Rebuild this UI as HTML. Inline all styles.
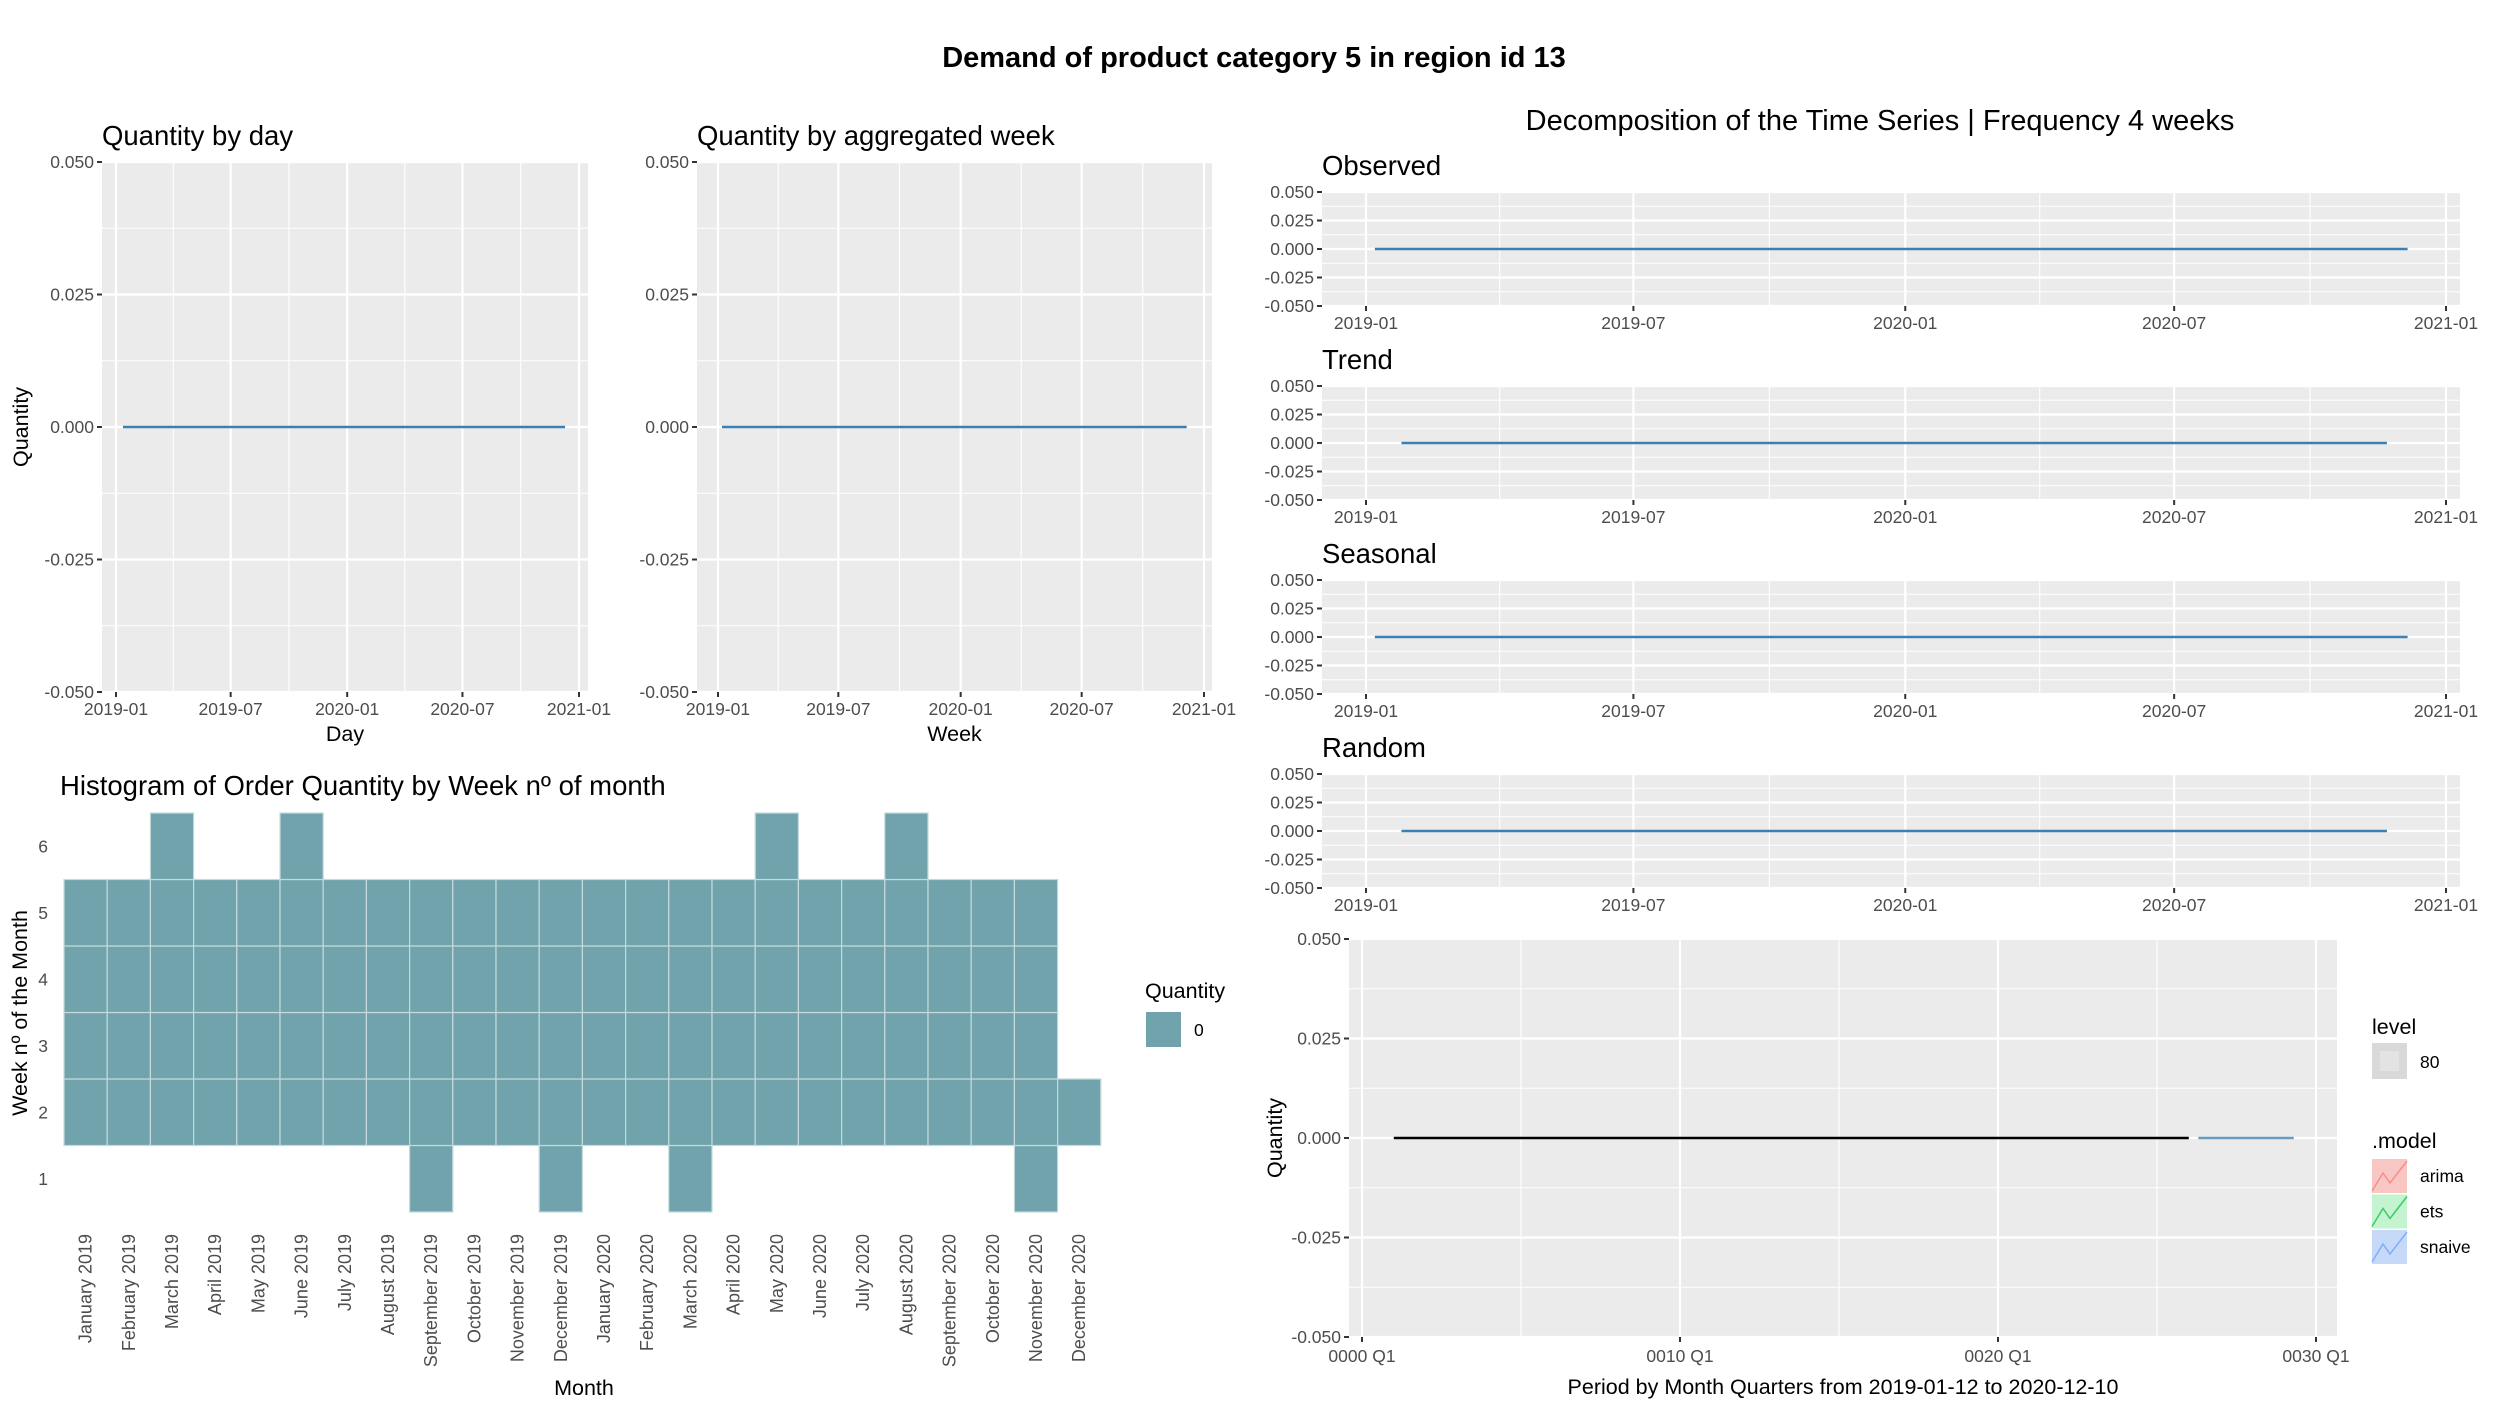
<!DOCTYPE html>
<html><head><meta charset="utf-8">
<style>
html,body{margin:0;padding:0;background:#fff;}
svg{display:block;font-family:"Liberation Sans",Arial,sans-serif;}
</style></head>
<body>
<svg id="chart" width="2496" height="1404" viewBox="0 0 2496 1404" xmlns="http://www.w3.org/2000/svg">
<text x="1254" y="67" text-anchor="middle" font-size="29" font-weight="bold" fill="#000">Demand of product category 5 in region id 13</text>
</svg>
<script>
// ---------- data ----------
const yTicks = [0.05, 0.025, 0, -0.025, -0.05];
const yTickLabels = ["0.050", "0.025", "0.000", "-0.025", "-0.050"];
const dateTicks = ["2019-01-01", "2019-07-01", "2020-01-01", "2020-07-01", "2021-01-01"];
const dateTickLabels = ["2019-01", "2019-07", "2020-01", "2020-07", "2021-01"];
const dayDates = ["2019-01-12", "2019-07-01", "2020-01-01", "2020-07-01", "2020-12-10"];
const dayValues = [0, 0, 0, 0, 0];
const weekDates = ["2019-01-07", "2019-07-07", "2020-01-05", "2020-07-05", "2020-12-06"];
const weekValues = [0, 0, 0, 0, 0];
const observedDates = ["2019-01-07", "2019-07-07", "2020-01-05", "2020-07-05", "2020-12-06"];
const observedValues = [0, 0, 0, 0, 0];
const trendDates = ["2019-01-25", "2019-07-07", "2020-01-05", "2020-07-05", "2020-11-22"];
const trendValues = [0, 0, 0, 0, 0];
const seasonalDates = ["2019-01-07", "2019-07-07", "2020-01-05", "2020-07-05", "2020-12-06"];
const seasonalValues = [0, 0, 0, 0, 0];
const randomDates = ["2019-01-25", "2019-07-07", "2020-01-05", "2020-07-05", "2020-11-22"];
const randomValues = [0, 0, 0, 0, 0];
const months = ["January 2019","February 2019","March 2019","April 2019","May 2019","June 2019","July 2019","August 2019","September 2019","October 2019","November 2019","December 2019","January 2020","February 2020","March 2020","April 2020","May 2020","June 2020","July 2020","August 2020","September 2020","October 2020","November 2020","December 2020"];
const weekRows = [1, 2, 3, 4, 5, 6];
const heatMonthIdx = [0,0,0,0, 1,1,1,1, 2,2,2,2,2, 3,3,3,3, 4,4,4,4, 5,5,5,5,5, 6,6,6,6, 7,7,7,7, 8,8,8,8,8, 9,9,9,9, 10,10,10,10, 11,11,11,11,11, 12,12,12,12, 13,13,13,13, 14,14,14,14,14, 15,15,15,15, 16,16,16,16,16, 17,17,17,17, 18,18,18,18, 19,19,19,19,19, 20,20,20,20, 21,21,21,21, 22,22,22,22,22, 23];
const heatWeek = [2,3,4,5, 2,3,4,5, 2,3,4,5,6, 2,3,4,5, 2,3,4,5, 2,3,4,5,6, 2,3,4,5, 2,3,4,5, 1,2,3,4,5, 2,3,4,5, 2,3,4,5, 1,2,3,4,5, 2,3,4,5, 2,3,4,5, 1,2,3,4,5, 2,3,4,5, 2,3,4,5,6, 2,3,4,5, 2,3,4,5, 2,3,4,5,6, 2,3,4,5, 2,3,4,5, 1,2,3,4,5, 2];
const heatQuantity = heatWeek.map(() => 0);
const fcTicks = [0, 10, 20, 30];
const fcTickLabels = ["0000 Q1", "0010 Q1", "0020 Q1", "0030 Q1"];
const histX = [1, 10, 20, 26];
const histValues = [0, 0, 0, 0];
const fcX = [26.3, 28, 29.3];
const fcValues = [0, 0, 0];

// ---------- helpers ----------
const NS = "http://www.w3.org/2000/svg";
const svg = document.getElementById("chart");
const TICK = 17.5;
function mk(tag, attrs, parent) {
  const e = document.createElementNS(NS, tag);
  for (const k in attrs) e.setAttribute(k, attrs[k]);
  (parent || svg).appendChild(e);
  return e;
}
function txt(s, attrs, parent) { const e = mk("text", attrs, parent); e.textContent = s; return e; }
function yearFrac(d) { const t = new Date(d + "T00:00:00Z"); return (t - Date.UTC(2019,0,1)) / (Date.UTC(2021,0,1) - Date.UTC(2019,0,1)); }

function timePanel(o) {
  const g = mk("g", {});
  
  
  const xs = d => o.x0 + yearFrac(d) * (o.x1 - o.x0);
  const ys = v => o.top + (0.05 - v) / 0.1 * (o.bottom - o.top);
  const bg = mk("rect", {x:o.left, y:o.top, width:o.right-o.left, height:o.bottom-o.top, fill:"#ebebeb"}, g);
  
  
  for (let i = 0; i < yTicks.length - 1; i++) {
    const y = ys((yTicks[i] + yTicks[i+1]) / 2);
    mk("line", {x1:o.left, x2:o.right, y1:y, y2:y, stroke:"#fff", "stroke-width":1.1}, g);
  }
  for (let i = 0; i < dateTicks.length - 1; i++) {
    const x = (xs(dateTicks[i]) + xs(dateTicks[i+1])) / 2;
    mk("line", {x1:x, x2:x, y1:o.top, y2:o.bottom, stroke:"#fff", "stroke-width":1.1}, g);
  }
  yTicks.forEach((v, i) => {
    const y = ys(v);
    mk("line", {x1:o.left, x2:o.right, y1:y, y2:y, stroke:"#fff", "stroke-width":2.2}, g);
    mk("line", {x1:o.left-5, x2:o.left, y1:y, y2:y, stroke:"#333", "stroke-width":2}, g);
    const t = txt(yTickLabels[i], {x:o.left-8, y:y+6, "text-anchor":"end", "font-size":TICK, fill:"#4d4d4d"}, g);
    
    
  });
  dateTicks.forEach((d, i) => {
    const x = xs(d);
    mk("line", {x1:x, x2:x, y1:o.top, y2:o.bottom, stroke:"#fff", "stroke-width":2.2}, g);
    mk("line", {x1:x, x2:x, y1:o.bottom, y2:o.bottom+5, stroke:"#333", "stroke-width":2}, g);
    const t = txt(dateTickLabels[i], {x:x, y:o.bottom+23, "text-anchor":"middle", "font-size":TICK, fill:"#4d4d4d"}, g);
    
    
  });
  const pts = o.dates.map((d, i) => xs(d) + "," + ys(o.values[i])).join(" ");
  const ln = mk("polyline", {points:pts, fill:"none", stroke:"#3b80b4", "stroke-width":2.4}, g);
  
  
  const tt = txt(o.title, {x:o.left, y:o.titleY, "font-size":o.titleSize || 27.5, fill:"#000"}, g);
  
  
  if (o.xTitle) {
    const xt = txt(o.xTitle, {x:(o.left+o.right)/2, y:o.bottom+49, "text-anchor":"middle", "font-size":21.5, fill:"#000"}, g);
    
    
  }
}

timePanel({name:"quantity-by-day", left:102, right:588, top:162, bottom:692, x0:116, x1:579, dates:dayDates, values:dayValues, title:"Quantity by day", titleY:145, xTitle:"Day"});
timePanel({name:"quantity-by-week", left:697, right:1212, top:162, bottom:692, x0:718, x1:1204, dates:weekDates, values:weekValues, title:"Quantity by aggregated week", titleY:145, xTitle:"Week"});
const yt1 = txt("Quantity", {x:0, y:0, "text-anchor":"middle", "font-size":21.5, transform:"translate(28,427) rotate(-90)"});



const dt = txt("Decomposition of the Time Series | Frequency 4 weeks", {x:1880, y:130, "text-anchor":"middle", "font-size":29});


const comps = [["Observed", observedDates, observedValues], ["Trend", trendDates, trendValues], ["Seasonal", seasonalDates, seasonalValues], ["Random", randomDates, randomValues]];
comps.forEach((c, i) => {
  const top = 192 + i * 194;
  timePanel({name:"decomp-" + c[0].toLowerCase(), left:1322, right:2460, top:top, bottom:top+114, x0:1366, x1:2446, dates:c[1], values:c[2], title:c[0], titleY:top-17});
});

(function(){
  const g = mk("g", {});
  
  
  const L=1349, R=2337, T=939, B=1337;
  const xs = v => 1362 + v * 31.8;
  const ys = v => T + (0.05 - v) / 0.1 * (B - T);
  mk("rect", {x:L, y:T, width:R-L, height:B-T, fill:"#ebebeb"}, g);
  for (let i = 0; i < yTicks.length - 1; i++) { const y = ys((yTicks[i]+yTicks[i+1])/2); mk("line", {x1:L,x2:R,y1:y,y2:y,stroke:"#fff","stroke-width":1.1}, g); }
  for (let i = 0; i < fcTicks.length - 1; i++) { const x = xs((fcTicks[i]+fcTicks[i+1])/2); mk("line", {x1:x,x2:x,y1:T,y2:B,stroke:"#fff","stroke-width":1.1}, g); }
  yTicks.forEach((v, i) => {
    const y = ys(v);
    mk("line", {x1:L,x2:R,y1:y,y2:y,stroke:"#fff","stroke-width":2.2}, g);
    mk("line", {x1:L-5,x2:L,y1:y,y2:y,stroke:"#333","stroke-width":2}, g);
    const t = txt(yTickLabels[i], {x:L-8, y:y+6, "text-anchor":"end", "font-size":TICK, fill:"#4d4d4d"}, g);
    
    
  });
  fcTicks.forEach((v, i) => {
    const x = xs(v);
    mk("line", {x1:x,x2:x,y1:T,y2:B,stroke:"#fff","stroke-width":2.2}, g);
    mk("line", {x1:x,x2:x,y1:B,y2:B+5,stroke:"#333","stroke-width":2}, g);
    const t = txt(fcTickLabels[i], {x:x, y:B+25, "text-anchor":"middle", "font-size":TICK, fill:"#4d4d4d"}, g);
    
    
  });
  const h = mk("polyline", {points:histX.map((v,i)=>xs(v)+","+ys(histValues[i])).join(" "), fill:"none", stroke:"#000", "stroke-width":2.4}, g);
  
  
  const f = mk("polyline", {points:fcX.map((v,i)=>xs(v)+","+ys(fcValues[i])).join(" "), fill:"none", stroke:"#6a9cbf", "stroke-width":2.4}, g);
  
  
  const xt = txt("Period by Month Quarters from 2019-01-12 to 2020-12-10", {x:1843, y:1394, "text-anchor":"middle", "font-size":21.5}, g);
  
  
  const yt = txt("Quantity", {x:0, y:0, "text-anchor":"middle", "font-size":21.5, transform:"translate(1282,1138) rotate(-90)"}, g);
  
  
  const lg = mk("g", {}, g);
  
  
  txt("level", {x:2372, y:1034, "font-size":21.5}, lg);
  mk("rect", {x:2372, y:1043, width:35, height:36, fill:"#d9d9d9"}, lg);
  mk("rect", {x:2380, y:1051, width:19, height:20, fill:"#e3e3e3"}, lg);
  txt("80", {x:2420, y:1068, "font-size":TICK, fill:"#000"}, lg);
  txt(".model", {x:2372, y:1148, "font-size":21.5}, lg);
  const models = [["arima","#f8c6c3","#f8766d"],["ets","#c3f3cf","#00ba38"],["snaive","#c6d9f8","#619cff"]];
  models.forEach((m, i) => {
    const y = 1159 + i * 35.5;
    const e = mk("g", {}, lg);
    
    
    mk("rect", {x:2372, y:y, width:35, height:34, fill:m[1]}, e);
    mk("polyline", {points:`2372,${y+32} 2383,${y+14} 2390,${y+24} 2407,${y+2}`, fill:"none", stroke:m[2], "stroke-width":1.5, opacity:0.7}, e);
    txt(m[0], {x:2420, y:y+23, "font-size":TICK}, e);
  });
})();

(function(){
  const g = mk("g", {});
  
  
  const X0 = 64, CW = 43.2, ROWB = 1212, RH = 66.5;
  const cx = i => X0 + CW * i;
  const ry = w => ROWB - RH * w;
  const tt = txt("Histogram of Order Quantity by Week nº of month", {x:60, y:795, "font-size":27.5}, g);
  
  
  heatMonthIdx.forEach((m, k) => {
    const r = mk("rect", {x:cx(m), y:ry(heatWeek[k]), width:CW, height:RH, fill:"#71a3ac", stroke:"#c5dadd", "stroke-width":1.2}, g);
    
    
  });
  weekRows.forEach(w => {
    const t = txt(String(w), {x:48, y:ry(w) + RH/2 + 6, "text-anchor":"end", "font-size":TICK, fill:"#4d4d4d"}, g);
    
    
  });
  months.forEach((m, i) => {
    const x = cx(i) + CW/2 + 6;
    const t = txt(m, {x:0, y:0, "text-anchor":"end", "font-size":18, fill:"#4d4d4d", transform:`translate(${x},1234) rotate(-90)`}, g);
    
    
  });
  const xt = txt("Month", {x:584, y:1395, "text-anchor":"middle", "font-size":21.5}, g);
  
  
  const yt = txt("Week nº of the Month", {x:0, y:0, "text-anchor":"middle", "font-size":21.5, transform:"translate(27,1013) rotate(-90)"}, g);
  
  
  const lg = mk("g", {}, g);
  
  
  txt("Quantity", {x:1145, y:998, "font-size":21.5}, lg);
  mk("rect", {x:1146, y:1012, width:35, height:35, fill:"#71a3ac"}, lg);
  txt("0", {x:1194, y:1036, "font-size":TICK}, lg);
})();
</script>
</body></html>
